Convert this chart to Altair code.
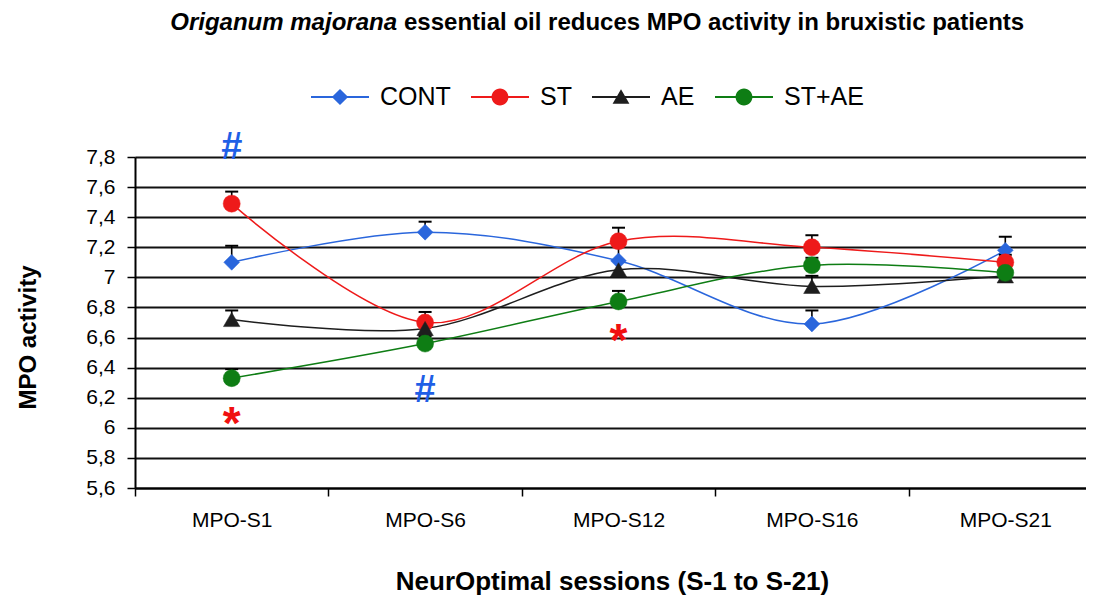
import altair as alt
import pandas as pd

# ---------------- data ----------------
sessions = ["MPO-S1", "MPO-S6", "MPO-S12", "MPO-S16", "MPO-S21"]
groups = ["CONT", "ST", "AE", "ST+AE"]

cont = [7.10, 7.30, 7.11, 6.69, 7.18]
cont_err = [0.11, 0.07, 0.10, 0.09, 0.09]
st = [7.49, 6.70, 7.24, 7.20, 7.10]
st_err = [0.08, 0.07, 0.09, 0.08, 0.05]
ae = [6.72, 6.66, 7.05, 6.94, 7.01]
ae_err = [0.06, 0.05, 0.06, 0.07, 0.03]
stae = [6.33, 6.56, 6.84, 7.08, 7.03]
stae_err = [0.06, 0.05, 0.07, 0.05, 0.04]

ann_session = ["MPO-S1", "MPO-S6", "MPO-S1", "MPO-S12"]
ann_value = [7.87, 6.26, 6.10, 6.65]
ann_text = ["#", "#", "*", "*"]
ann_color = ["#1f5fe6", "#1f5fe6", "#f01010", "#f01010"]

y_ticks = [5.6, 5.8, 6.0, 6.2, 6.4, 6.6, 6.8, 7.0, 7.2, 7.4, 7.6, 7.8]

title_italic = "Origanum majorana"
title_rest = "essential oil reduces MPO activity in bruxistic patients"
x_title = "NeurOptimal sessions (S-1 to S-21)"
y_title = "MPO activity"

# ---------------- styling ----------------
colors = ["#2a66dc", "#ee1a1a", "#1e1e1e", "#0e7d14"]
marker_shapes = ["diamond", "circle", "triangle-up", "circle"]
marker_sizes = [250, 290, 270, 290]
FONT = "Liberation Sans"

# legend glyphs: short line with the marker in the middle (box -1..1)
line_part = "M-1,-0.035H1V0.035H-1Z"
legend_paths = [
    line_part + "M0,-0.28L0.28,0L0,0.28L-0.28,0Z",
    line_part + "M0.29,0A0.29,0.29,0,1,1,-0.29,0A0.29,0.29,0,1,1,0.29,0Z",
    line_part + "M0,-0.27L0.29,0.23L-0.29,0.23Z",
    line_part + "M0.29,0A0.29,0.29,0,1,1,-0.29,0A0.29,0.29,0,1,1,0.29,0Z",
]

rows = []
for g, vals, errs in zip(groups, [cont, st, ae, stae], [cont_err, st_err, ae_err, stae_err]):
    for i, (s, v, e) in enumerate(zip(sessions, vals, errs)):
        rows.append({"session": s, "idx": i, "group": g, "value": v, "upper": v + e})
df = pd.DataFrame(rows)

ann_df = pd.DataFrame({"session": ann_session, "value": ann_value,
                       "t": ann_text, "c": ann_color})

color_scale = alt.Scale(domain=groups, range=colors)

x_axis = alt.Axis(
    title=x_title, titleFont=FONT, titleFontSize=26, titleFontWeight="bold",
    titleColor="black", titleX=477, titleY=93, titleBaseline="middle",
    labelFont=FONT, labelFontSize=21, labelColor="black", labelAngle=0,
    labelPadding=13, tickBand="extent", tickSize=8, tickColor="black",
    tickWidth=1.5, domainColor="black", domainWidth=2, grid=False,
)
y_axis = alt.Axis(
    title=y_title, titleFont=FONT, titleFontSize=24, titleFontWeight="bold",
    titleColor="black", titleX=-107, titleY=180, titleBaseline="middle",
    values=y_ticks, tickCount=30, labelOverlap=False,
    labelExpr="replace(format(datum.value, '.1~f'), '.', ',')",
    labelFont=FONT, labelFontSize=21, labelColor="black", labelPadding=12,
    tickSize=8, tickColor="black", tickWidth=1.5,
    domainColor="black", domainWidth=2,
    grid=True, gridColor="#111111", gridWidth=2, gridOpacity=1,
)

X = alt.X("session:N", sort=sessions,
          scale=alt.Scale(domain=sessions, range=[0, 967],
                          paddingInner=0, paddingOuter=0),
          axis=x_axis)
y_scale = alt.Scale(domain=[5.6, 7.8], nice=False, zero=False)
Y = alt.Y("value:Q", scale=y_scale, axis=y_axis)
Y_up = alt.Y("upper:Q", scale=y_scale, axis=y_axis)

base = alt.Chart(df)

line_layers = []
for g, c in zip(groups, colors):
    line_layers.append(
        base.transform_filter(alt.datum.group == g)
        .mark_line(interpolate="cardinal", strokeWidth=1.5, color=c)
        .encode(x=X, y=Y, order=alt.Order("idx:Q"))
    )

err_rules = base.mark_rule(color="black", strokeWidth=1.6).encode(
    x=X, y=Y, y2="upper:Q"
)
err_caps = base.mark_tick(color="black", thickness=2, size=13, opacity=1).encode(
    x=X, y=Y_up
)

point_layers = []
for g, c, shp, sz in zip(groups, colors, marker_shapes, marker_sizes):
    point_layers.append(
        base.transform_filter(alt.datum.group == g)
        .mark_point(filled=True, opacity=1, shape=shp, size=sz, color=c,
                    stroke=c, strokeWidth=0.5)
        .encode(x=X, y=Y)
    )

hash_marks = alt.Chart(ann_df).transform_filter(alt.datum.t == "#").mark_text(
    font=FONT, fontSize=38, fontWeight="bold", baseline="middle", dy=2
).encode(x=X, y=Y, text="t:N", color=alt.Color("c:N", scale=None))

star_marks = alt.Chart(ann_df).transform_filter(alt.datum.t == "*").mark_text(
    font=FONT, fontSize=46, fontWeight="bold", baseline="middle", dy=12
).encode(x=X, y=Y, text="t:N", color=alt.Color("c:N", scale=None))

leg = alt.Legend(
    title=None, orient="none", legendX=176, legendY=-89, direction="horizontal",
    labelFont=FONT, labelFontSize=25, labelColor="black", labelOffset=11,
    columnPadding=20, symbolSize=3364, symbolStrokeWidth=0, symbolOpacity=1,
    labelLimit=400, padding=0,
)
legend_layer = base.mark_point(filled=True, opacity=1, size=3364, clip=True,
                               strokeWidth=0).encode(
    y=alt.value(3000),
    color=alt.Color("group:N", scale=color_scale, legend=leg),
    shape=alt.Shape("group:N", scale=alt.Scale(domain=groups, range=legend_paths),
                    legend=leg),
)

tdf = pd.DataFrame({"a": [title_italic], "b": [title_rest]})
title_it = alt.Chart(tdf).mark_text(
    font=FONT, fontSize=24, fontWeight="bold", fontStyle="italic",
    align="right", baseline="middle", color="black"
).encode(text="a:N", x=alt.value(262), y=alt.value(-134))
title_rm = alt.Chart(tdf).mark_text(
    font=FONT, fontSize=24, fontWeight="bold",
    align="left", baseline="middle", color="black"
).encode(text="b:N", x=alt.value(269), y=alt.value(-134))

chart = alt.layer(
    *line_layers, err_rules, err_caps, *point_layers, hash_marks, star_marks,
    legend_layer, title_it, title_rm
).properties(
    width=951, height=331,
    autosize=alt.AutoSizeParams(type="none"),
    padding={"left": 127, "top": 149, "right": 0, "bottom": 110},
    background="white",
).configure_view(stroke=None)

chart.save("out.html", embed_options={"renderer": "svg", "actions": False})
